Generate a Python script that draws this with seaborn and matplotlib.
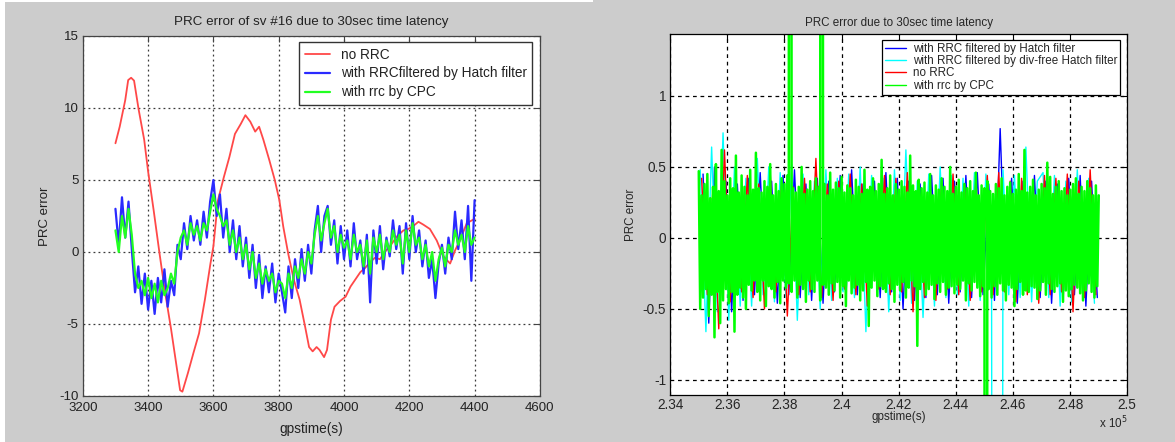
import numpy as np
import matplotlib
matplotlib.use("Agg")
import matplotlib.pyplot as plt
from matplotlib.patches import Rectangle
import seaborn as sns

sns.set_style("white")
plt.rcParams["font.family"] = ["Liberation Sans", "DejaVu Sans"]
plt.rcParams["axes.unicode_minus"] = False

# ---------------- satellite #16, 30 s latency ----------------
sv16_time = np.arange(3300, 4401, 10)

no_rrc_time = [3300, 3313, 3330, 3339, 3348, 3357, 3371, 3388, 3400, 3417,
               3435, 3452, 3470, 3485, 3498, 3505, 3522, 3539, 3556, 3574,
               3591, 3600, 3614, 3632, 3649, 3666, 3684, 3698, 3713, 3728,
               3740, 3753, 3771, 3788, 3802, 3814, 3829, 3846, 3864, 3881,
               3893, 3904, 3916, 3925, 3939, 3948, 3960, 3971, 3988, 4005,
               4020, 4035, 4050, 4065, 4080, 4095, 4110, 4125, 4141, 4161,
               4182, 4197, 4212, 4228, 4243, 4263, 4284, 4304, 4325, 4340,
               4355, 4376, 4400]
no_rrc_err = [7.55, 8.7, 10.55, 11.94, 12.1, 11.9, 9.9, 7.8, 5.6, 2.9,
              -0.1, -2.8, -5.3, -7.6, -9.6, -9.7, -8.4, -7.0, -5.65, -3.3,
              -0.8, 0.4, 3.6, 5.2, 6.6, 8.2, 8.9, 9.5, 9.05, 8.36,
              8.7, 7.8, 6.4, 5.0, 3.6, 1.76, -0.1, -1.9, -3.3, -5.2,
              -6.6, -6.9, -6.6, -6.8, -7.3, -6.8, -4.7, -3.8, -3.4, -3.1,
              -2.4, -1.9, -1.4, -1.1, -0.7, -0.4, -0.5, 0.0, 0.4, 1.06,
              1.5, 1.6, 1.8, 2.1, 1.9, 1.6, 0.8, -0.3, -0.8, 0.1,
              0.8, 2.0, 2.3]

hatch_err = [3.0, 0.5, 3.8, 1.0, 3.5, 0.2, -2.8, -1.0, -3.6, -1.5,
             -4.0, -2.0, -4.3, -1.8, -3.5, -1.2, -3.8, -2.0, -3.0, 0.5,
             -0.5, 2.0, 0.2, 2.5, 0.8, 2.2, 0.5, 2.8, 1.0, 3.5,
             5.0, 2.5, 4.0, 1.0, 3.0, 0.0, 2.2, -0.5, 1.8, -1.0,
             1.0, -1.8, 0.5, -2.5, -0.2, -3.2, -1.0, -2.8, -0.8, -3.5,
             -1.5, -2.8, -4.2, -1.0, -3.2, -0.5, -2.5, 0.2, -2.0, 0.5,
             -1.5, 1.5, 3.2, 0.0, 2.5, 3.2, 0.5, 2.2, -0.8, 1.8,
             -0.5, 1.5, -1.0, 2.0, -0.5, 0.8, -1.5, 1.2, -3.5, 1.5,
             -0.8, 1.8, -1.2, 1.0, -0.3, 2.2, 0.2, 1.8, -1.5, 2.0,
             -0.5, 2.5, 0.0, 1.5, -1.0, 0.8, -1.8, -0.5, -3.2, -0.8,
             0.5, -1.5, 1.0, -0.5, 2.8, 0.2, 2.2, -0.5, 3.2, -2.0,
             3.6]

cpc_err = [1.5, 0.0, 2.5, 1.0, 3.0, 1.2, -1.5, -2.5, -2.0, -3.0,
           -1.8, -3.2, -2.2, -3.5, -2.0, -3.0, -2.5, -1.5, -2.2, 0.0,
           1.0, 1.5, 0.5, 2.0, 1.2, 1.8, 0.8, 2.0, 1.5, 2.8,
           4.0, 3.0, 2.5, 1.8, 2.2, 0.5, 1.5, 0.0, 1.0, -0.5,
           0.5, -1.2, 0.0, -1.8, -0.8, -2.2, -1.2, -2.0, -1.5, -2.8,
           -2.0, -2.2, -3.2, -1.5, -2.5, -1.0, -1.8, -0.5, -1.5, 0.0,
           -0.8, 1.2, 2.5, 0.8, 2.0, 3.0, 1.0, 1.8, 0.0, 1.2,
           0.3, 0.8, -0.5, 1.2, 0.0, 0.5, -1.0, 0.8, -1.5, 1.0,
           0.0, 1.2, -0.5, 0.8, 0.0, 1.5, 0.5, 1.2, -0.8, 1.5,
           0.0, 2.0, 0.5, 1.0, -0.5, 0.5, -1.0, 0.0, -2.0, -0.5,
           0.3, -1.0, 0.5, 0.0, 1.5, 0.5, 1.2, 0.0, 1.8, 0.5,
           1.0]

# ---------------- all satellites, 30 s latency ----------------
all_time = np.arange(235000, 249001, 50)
hatch_time = np.arange(235150, 249000, 200)
divfree_time = np.arange(235050, 249000, 200)
norrc_time = np.arange(235100, 249000, 200)

all_cpc = [0.47, -0.50, 0.30, -0.42, 0.38, -0.36, 0.45, -0.55, 0.28, -0.40,
           0.36, -0.70, 0.52, -0.38, 0.33, -0.60, 0.62, -0.44, 0.40, -0.36,
           0.30, -0.46, 0.42, -0.38, 0.35, -0.66, 0.58, -0.40, 0.32, -0.35,
           0.44, -0.42, 0.36, -0.50, 0.30, -0.33, 0.48, -0.37, 0.34, -0.30,
           0.60, -0.38, 0.35, -0.44, 0.32, -0.30, 0.40, -0.48, 0.36, -0.34,
           0.52, -0.36, 0.30, -0.42, 0.38, -0.31, 0.33, -0.46, 0.42, -0.30,
           0.38, -0.35, 0.44, -0.32, 30.0, -0.38, 0.35, -0.30, 0.32, -0.42,
           0.36, -0.33, 0.50, -0.36, 0.31, -0.45, 0.34, -0.30, 0.40, -0.36,
           0.33, -0.38, 0.42, -0.30, 0.36, -0.44, 30.0, -0.33, 0.38, -0.35,
           0.30, -0.40, 0.46, -0.32, 0.34, -0.37, 0.39, -0.31, 0.35, -0.42,
           0.43, -0.34, 0.32, -0.48, 0.37, -0.30, 0.35, -0.39, 0.30, -0.35,
           0.41, -0.33, 0.36, -0.44, 0.31, -0.37, 0.48, -0.31, 0.34, -0.62,
           0.36, -0.35, 0.42, -0.30, 0.33, -0.41, 0.38, -0.34, 0.55, -0.36,
           0.31, -0.38, 0.35, -0.32, 0.44, -0.36, 0.30, -0.45, 0.38, -0.33,
           0.34, -0.37, 0.40, -0.31, 0.36, -0.42, 0.32, -0.35, 0.58, -0.30,
           0.37, -0.34, 0.33, -0.76, 0.41, -0.36, 0.35, -0.31, 0.39, -0.40,
           0.32, -0.36, 0.45, -0.33, 0.30, -0.43, 0.37, -0.32, 0.34, -0.38,
           0.42, -0.31, 0.36, -0.40, 0.33, -0.35, 0.50, -0.34, 0.31, -0.39,
           0.36, -0.33, 0.41, -0.36, 0.32, -0.30, 0.38, -0.44, 0.35, -0.32,
           0.40, -0.37, 0.33, -0.31, 0.46, -0.35, 0.30, -0.41, 0.37, -0.34,
           0.35, -30.0, 0.40, -0.36, 0.33, -0.42, 0.31, -0.34, 0.38, -0.40,
           0.35, -0.32, 0.42, -0.37, 0.30, -0.44, 0.36, -0.33, 0.39, -0.35,
           0.31, -0.48, 0.34, -0.36, 0.45, -0.31, 0.33, -0.40, 0.62, -0.37,
           0.32, -0.38, 0.36, -0.34, 0.41, -0.35, 0.30, -0.43, 0.34, -0.37,
           0.38, -0.31, 0.35, -0.40, 0.53, -0.32, 0.43, -0.36, 0.31, -0.38,
           0.36, -0.34, 0.40, -0.32, 0.33, -0.45, 0.35, -0.37, 0.30, -0.41,
           0.34, -0.36, 0.38, -0.33, 0.42, -0.35, 0.31, -0.39, 0.36, -0.44,
           0.33, -0.37, 0.40, -0.32, 0.35, -0.38, 0.30, -0.42, 0.37, -0.34,
           0.30]

all_divfree = [0.48, -0.66, 0.64, -0.52, 0.74, -0.58, 0.50, -0.48, 0.42, -0.48,
               0.56, -0.40, 0.50, -0.45, 0.46, -0.42, 0.52, -0.58, 0.45, -0.40,
               0.40, -0.50, 0.48, -0.44, 0.42, -0.38, 0.45, -0.42, 0.50, -0.66,
               0.44, -0.40, 0.42, -0.52, 0.48, -0.44, 0.62, -0.46, 0.40, -0.56,
               0.45, -0.48, 0.50, -0.42, 0.44, -0.40, 0.42, -0.48, 0.46, -0.44,
               0.45, -0.44, -30.0, 0.48, -0.40, 0.44, -0.42, 0.64, -0.45, 0.40,
               0.46, -0.42, 0.44, -0.48, 0.40, -0.45, 0.48, -0.44, 0.42, -0.46]

all_norrc = [0.42, -0.40, 0.36, -0.64, 0.62, -0.45, 0.40, -0.38, 0.44, -0.42,
             0.38, -0.50, 0.46, -0.38, 0.40, -0.55, 0.36, -0.40, 0.42, -0.38,
             0.56, -0.42, 0.38, -0.44, 0.40, -0.36, 0.45, -0.40, 0.38, -0.48,
             0.40, -0.36, 0.44, -0.40, 0.42, -0.38, 0.46, -0.52, 0.40, -0.42,
             0.38, -0.44, 0.40, -0.36, 0.45, -0.40, 0.38, -0.44, 0.42, -0.38,
             0.44, -0.40, 0.46, -0.38, 0.40, -0.45, 0.42, -0.40, 0.38, -0.46,
             0.44, -0.40, 0.42, -0.38, 0.45, -0.52, 0.40, -0.42, 0.48, -0.40]

all_hatch = [0.45, -0.60, 0.50, -0.42, 0.40, -0.52, 0.38, -0.44, 0.42, -0.40,
             0.46, -0.38, 0.40, -0.46, 0.44, -0.40, 0.48, -0.42, 0.38, -0.44,
             0.42, -0.46, 0.40, -0.38, 0.44, -0.42, 0.48, -0.40, 0.38, -0.44,
             0.40, -0.42, 0.46, -0.38, 0.42, -0.50, 0.40, -0.44, 0.38, -0.42,
             0.44, -0.40, 0.42, -0.46, 0.40, -0.38, 0.44, -0.42, 0.46, -0.40,
             0.38, -0.44, 0.77, -0.40, 0.42, -0.46, 0.40, -0.38, 0.44, -0.42,
             0.40, -0.46, 0.38, -0.44, 0.42, -0.40, 0.44, -0.48, 0.40, -0.42]

left_xticks = [3200, 3400, 3600, 3800, 4000, 4200, 4400, 4600]
left_yticks = [-10, -5, 0, 5, 10, 15]
right_xticks = [234000, 236000, 238000, 240000, 242000, 244000, 246000, 248000, 250000]
right_xlabels = ["2.34", "2.36", "2.38", "2.4", "2.42", "2.44", "2.46", "2.48", "2.5"]
right_yticks = [-1, -0.5, 0, 0.5, 1]
right_ylabels = ["-1", "-0.5", "0", "0.5", "1"]

W, H = 1175, 442
fig = plt.figure(figsize=(W / 100, H / 100), dpi=100, facecolor="#cccccc")
fig.patches.append(Rectangle((0, 0), 5 / W, 1, transform=fig.transFigure,
                             facecolor="white", edgecolor="none", zorder=-5))
fig.patches.append(Rectangle((0, 1 - 2 / H), 593 / W, 2 / H, transform=fig.transFigure,
                             facecolor="white", edgecolor="none", zorder=-5))


def axes_px(x0, y0, x1, y1):
    return fig.add_axes([x0 / W, 1 - y1 / H, (x1 - x0) / W, (y1 - y0) / H])


def matlab_axes(ax, spine_color, grid_color, dash):
    ax.set_facecolor("white")
    ax.set_axisbelow(True)
    ax.grid(True, color=grid_color, linestyle=dash, linewidth=0.9)
    for s in ax.spines.values():
        s.set_visible(True)
        s.set_color(spine_color)
        s.set_linewidth(0.9)
    ax.tick_params(direction="in", top=True, right=True, length=4, width=0.8,
                   color=spine_color, pad=3)


# ---------- left chart ----------
axL = axes_px(82.8, 36, 539.9, 396)
matlab_axes(axL, "#444444", "#3a3a3a", (0, (1.5, 2.5)))
sns.lineplot(x=no_rrc_time, y=no_rrc_err, ax=axL, color="#ff4848", lw=1.3,
             sort=False, estimator=None, label="no RRC")
sns.lineplot(x=sv16_time, y=hatch_err, ax=axL, color="#2a2aff", lw=1.6,
             sort=False, estimator=None, label="with RRCfiltered by Hatch filter")
sns.lineplot(x=sv16_time, y=cpc_err, ax=axL, color="#22ff22", lw=1.6,
             sort=False, estimator=None, label="with rrc by CPC")
axL.set_xlim(3200, 4600)
axL.set_ylim(-10, 15)
axL.set_xticks(left_xticks)
axL.set_yticks(left_yticks)
axL.tick_params(labelsize=9.5, labelcolor="#222222")
axL.tick_params(axis="x", pad=4.5)
axL.set_xlabel("gpstime(s)", fontsize=9.8, color="#222222")
axL.set_ylabel("PRC error", fontsize=9.5, color="#222222")
axL.xaxis.set_label_coords(0.5, -0.072)
axL.yaxis.set_label_coords(-0.07, 0.5)
legL = axL.legend(loc="upper right", bbox_to_anchor=(0.983, 0.983), fontsize=9.8,
                  frameon=True, fancybox=False, framealpha=1, edgecolor="#333333",
                  borderpad=0.4, labelspacing=0.36, handlelength=1.9,
                  handletextpad=0.75, borderaxespad=0)
legL.get_frame().set_linewidth(1.0)
for t in legL.get_texts():
    t.set_color("#222222")
fig.text(311 / W, 1 - 21.7 / H, "PRC error of sv #16 due to 30sec time latency",
         ha="center", va="center", fontsize=9.6, color="#222222")

# ---------- right chart ----------
axR = axes_px(670.2, 34.3, 1127.3, 395)
matlab_axes(axR, "black", "black", (0, (3, 3)))
sns.lineplot(x=hatch_time, y=all_hatch, ax=axR, color="#0000ff", lw=1.0,
             sort=False, estimator=None, label="with RRC filtered by Hatch filter")
sns.lineplot(x=divfree_time, y=all_divfree, ax=axR, color="#00ffff", lw=1.0,
             sort=False, estimator=None, label="with RRC filtered by div-free Hatch filter")
sns.lineplot(x=norrc_time, y=all_norrc, ax=axR, color="#ff0000", lw=1.0,
             sort=False, estimator=None, label="no RRC")
sns.lineplot(x=all_time, y=all_cpc, ax=axR, color="#00ff00", lw=1.8,
             sort=False, estimator=None, label="with rrc by CPC")
axR.set_xlim(234000, 250000)
axR.set_ylim(-1.106, 1.434)
axR.set_xticks(right_xticks)
axR.set_xticklabels(right_xlabels)
axR.set_yticks(right_yticks)
axR.set_yticklabels(right_ylabels)
axR.tick_params(labelsize=9.8)
axR.tick_params(axis="x", pad=2.5)
axR.set_xlabel("gpstime(s)", fontsize=8.4)
axR.set_ylabel("PRC error", fontsize=8.4)
axR.xaxis.set_label_coords(0.5, -0.045)
axR.yaxis.set_label_coords(-0.072, 0.5)
legR = axR.legend(loc="upper right", bbox_to_anchor=(0.985, 0.984), fontsize=8.4,
                  frameon=True, fancybox=False, framealpha=1, edgecolor="black",
                  borderpad=0.25, labelspacing=0.02, handlelength=1.8,
                  handletextpad=0.6, borderaxespad=0)
legR.get_frame().set_linewidth(0.9)
for line in legR.get_lines():
    line.set_linewidth(1.0)
axR.text(1.0, -0.078, r"x 10$^{5}$", transform=axR.transAxes, ha="right",
         va="center", fontsize=8.4)
fig.text(898.7 / W, 1 - 22.7 / H, "PRC error due to 30sec time latency",
         ha="center", va="center", fontsize=8.4)

fig.savefig("out.png", dpi=100, facecolor=fig.get_facecolor())
